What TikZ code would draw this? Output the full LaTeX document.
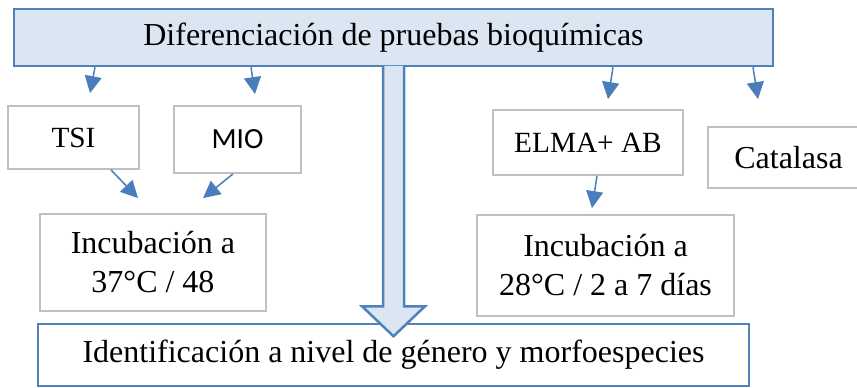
\documentclass[tikz,border=0pt]{standalone}
\usepackage{fontspec}
\setmainfont{Liberation Serif}
\newfontfamily\calibri{Carlito}
\usetikzlibrary{arrows.meta}
\definecolor{azul}{HTML}{4F81BD}
\definecolor{azulclaro}{HTML}{DCE6F2}
\definecolor{gris}{HTML}{BFBFBF}
\definecolor{flechaazul}{HTML}{4A7EBB}

\begin{document}
\begin{tikzpicture}[x=1pt,y=-1pt,
    caja/.style={draw=gris,line width=1.8pt,fill=white,inner sep=0pt,align=center,font=\rmfamily\fontsize{32}{39}\selectfont},
    chica/.style={font=\rmfamily\fontsize{29.3}{35}\selectfont},
    flecha/.style={flechaazul,line width=1.5pt,-{Triangle[length=17pt,width=17pt]}}]
    \useasboundingbox (0,0) rectangle (857,388);
    % cajas
    \node[caja,draw=azul,line width=2.5pt,minimum width=711pt,minimum height=62pt] (ident) at (393.5,355) {Identificación a nivel de género y morfoespecies};
    \node[caja,chica,minimum width=131pt,minimum height=63pt] (tsi) at (73.5,137.5) {TSI};
    \node[caja,minimum width=127pt,minimum height=67pt,font=\calibri\fontsize{29.3}{35}\selectfont] (mio) at (237.5,139.5) {MIO};
    \node[caja,minimum width=226pt,minimum height=97pt] (incub1) at (153,262.5) {Incubación a\\37°C / 48};
    \node[caja,chica,minimum width=190pt,minimum height=65pt] (elma) at (588,142.5) {ELMA+ AB};
    \node[caja,minimum width=161pt,minimum height=61pt] (cata) at (788.5,157.5) {Catalasa};
    \node[caja,minimum width=257pt,minimum height=101pt] (incub2) at (605.5,265.5) {Incubación a\\28°C / 2 a 7 días};
    \node[caja,draw=azul,fill=azulclaro,line width=2.5pt,minimum width=759pt,minimum height=57pt] (dif) at (393.5,37.5) {Diferenciación de pruebas bioquímicas};
    % flecha grande
    \fill[azulclaro] ([xshift=-10.5pt,yshift=1.5pt]dif.south) -- ++(0,240.5) -- ++(-21,0) -- ++(31.5,30) -- ++(31.5,-30) -- ++(-21,0) -- ++(0,-240.5) -- cycle;
    \draw[azul,line width=2.5pt,line join=miter] ([xshift=-10.5pt,yshift=1.5pt]dif.south) -- ++(0,240.5) -- ++(-21,0) -- ++(31.5,30) -- ++(31.5,-30) -- ++(-21,0) -- ++(0,-240.5);
    % flechas
    \draw[flecha] ([xshift=-298.5pt]dif.south) -- ([xshift=16.5pt,yshift=12pt]tsi.north);
    \draw[flecha] ([xshift=-142.5pt]dif.south) -- ([xshift=17.5pt,yshift=11pt]mio.north);
    \draw[flecha] ([xshift=219.5pt]dif.south) -- ([xshift=20pt,yshift=10pt]elma.north);
    \draw[flecha] ([xshift=359.5pt]dif.south) -- ([xshift=-30.5pt,yshift=27pt]cata.north);
    \draw[flecha] ([xshift=37.5pt]tsi.south) -- ([xshift=-15pt,yshift=15pt]incub1.north);
    \draw[flecha] ([xshift=-4.5pt]mio.south) -- ([xshift=50pt,yshift=15pt]incub1.north);
    \draw[flecha] ([xshift=9pt]elma.south) -- ([xshift=-13.5pt,yshift=6pt]incub2.north);
\end{tikzpicture}
\end{document}
